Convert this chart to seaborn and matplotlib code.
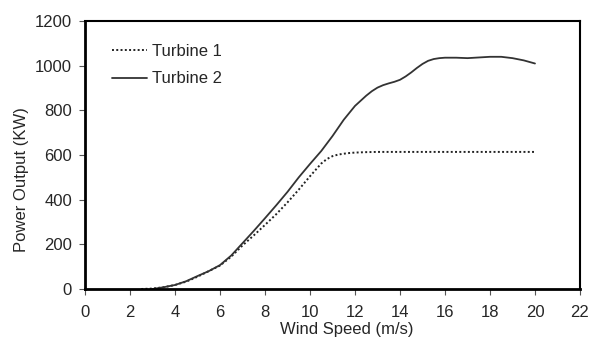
import matplotlib
matplotlib.use("Agg")
import matplotlib.pyplot as plt
import seaborn as sns
import pandas as pd

speed1 = [2.5, 3, 3.5, 4, 4.5, 5, 5.5, 6, 6.5, 7, 7.5, 8, 8.5, 9, 9.5, 10,
          10.5, 10.75, 11, 11.25, 11.5, 11.75, 12, 12.5, 13, 14, 15, 16, 17, 18, 19, 20]
turbine1 = [0, 2, 8, 18, 33, 55, 80, 105, 145, 195, 240, 287, 335, 388, 445, 505,
            562, 582, 595, 602, 606, 609, 611, 613, 614, 614, 614, 614, 614, 614, 614, 614]

speed2 = [3, 3.5, 4, 4.5, 5, 5.5, 6, 6.5, 7, 7.5, 8, 8.5, 9, 9.5, 10,
          10.5, 11, 11.5, 12, 12.5, 12.75, 13, 13.25, 13.5, 13.75, 14, 14.25, 14.5,
          14.75, 15, 15.25, 15.5, 15.75, 16, 16.5, 17, 17.5, 18, 18.5, 19, 19.5, 20]
turbine2 = [0, 8, 18, 35, 58, 80, 107, 150, 205, 260, 317, 375, 435, 500, 560,
            618, 685, 758, 820, 866, 886, 902, 913, 921, 928, 937, 952, 970,
            990, 1008, 1022, 1030, 1034, 1036, 1036, 1034, 1037, 1040, 1040, 1034, 1024, 1010]

df = pd.DataFrame({"Wind Speed": speed1 + speed2,
                   "Power": turbine1 + turbine2,
                   "Series": ["Turbine 1"] * len(speed1) + ["Turbine 2"] * len(speed2)})

sns.set_style("white")
plt.rcParams["font.family"] = ["Liberation Sans", "DejaVu Sans"]

fig = plt.figure(figsize=(5.89, 3.40), dpi=100)
ax = fig.add_axes([0.1443, 0.15, 0.8404, 0.788])

sns.lineplot(data=df[df.Series == "Turbine 1"], x="Wind Speed", y="Power", ax=ax,
             color="#222222", linestyle=(0, (1, 1.2)), linewidth=1.4, label="Turbine 1")
sns.lineplot(data=df[df.Series == "Turbine 2"], x="Wind Speed", y="Power", ax=ax,
             color="#333333", linestyle="-", linewidth=1.3, label="Turbine 2")

ax.set_xlim(0, 22)
ax.set_ylim(0, 1200)
ax.set_xticks(range(0, 23, 2))
ax.set_yticks(range(0, 1201, 200))
ax.set_xlabel("Wind Speed (m/s)", fontsize=12)
ax.set_ylabel("Power Output (KW)", fontsize=12)
ax.xaxis.set_label_coords(0.528, -0.125)
ax.yaxis.set_label_coords(-0.113, 0.407)
ax.tick_params(axis="both", which="major", direction="out", length=4.3, width=0.8,
               color="#555555", labelsize=12, bottom=True, left=True)
ax.tick_params(axis="x", pad=7)
ax.tick_params(axis="y", pad=5)
for side, lw in [("left", 2.0), ("bottom", 2.0), ("top", 1.5), ("right", 1.5)]:
    ax.spines[side].set_visible(True)
    ax.spines[side].set_color("black")
    ax.spines[side].set_linewidth(lw)

leg = ax.legend(loc="upper left", bbox_to_anchor=(0.055, 0.915), frameon=False,
                fontsize=12, handlelength=2.1, handletextpad=0.3, labelspacing=0.75,
                borderaxespad=0, borderpad=0)

fig.savefig("out.png", dpi=100)
